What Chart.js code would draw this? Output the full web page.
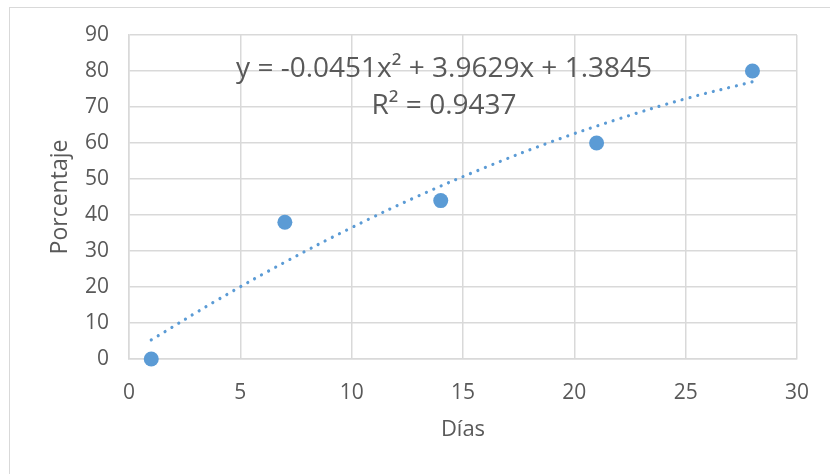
<!DOCTYPE html>
<html>
<head>
<meta charset="utf-8">
<script src="https://cdn.jsdelivr.net/npm/chart.js@4/dist/chart.umd.min.js"></script>
<style>
  html, body { margin: 0; padding: 0; background: #fff; overflow: hidden; }
  #wrap { position: relative; width: 830px; height: 474px; }
  #frame { position: absolute; left: 9px; top: 7px; width: 900px; height: 600px; border: 1px solid #d9d9d9; box-sizing: border-box; }
  canvas { position: absolute; left: 0; top: 0; }
</style>
</head>
<body>
<div id="wrap">
  <div id="frame"></div>
  <canvas id="c" width="830" height="474"></canvas>
</div>
<script>
// Observed data
const dias = [1, 7, 14, 21, 28];
const porcentaje = [0, 38, 44, 60, 80];

// Trendline (polynomial, order 2)
const trendX = [1, 4, 7, 10, 13, 16, 19, 22, 25, 28];
const trendY = [5.3, 16.5, 26.9, 36.5, 45.3, 53.2, 60.4, 66.7, 72.3, 77.0];

// Ticks / labels
const xTicks = [0, 5, 10, 15, 20, 25, 30];
const yTicks = [0, 10, 20, 30, 40, 50, 60, 70, 80, 90];
const equationLines = ['y = -0.0451x\u00B2 + 3.9629x + 1.3845', 'R\u00B2 = 0.9437'];
const xTitle = 'Días';
const yTitle = 'Porcentaje';

const FONT = "'Open Sans', 'Liberation Sans', sans-serif";
const TXT = '#595959';
const GRID = '#d9d9d9';
const BLUE = '#5b9bd5';

const equationPlugin = {
  id: 'equation',
  afterDatasetsDraw(chart) {
    const ctx = chart.ctx;
    const xs = chart.scales.x, ys = chart.scales.y;
    ctx.save();
    ctx.fillStyle = TXT;
    ctx.font = "28px " + FONT;
    ctx.textAlign = 'center';
    ctx.textBaseline = 'alphabetic';
    const cx = xs.getPixelForValue(14.15);
    ctx.fillText(equationLines[0], cx, ys.getPixelForValue(78.3));
    ctx.fillText(equationLines[1], cx, ys.getPixelForValue(68.1));
    ctx.restore();
  }
};

new Chart(document.getElementById('c'), {
  type: 'scatter',
  data: {
    datasets: [
      {
        label: 'Porcentaje',
        data: dias.map((d, i) => ({ x: d, y: porcentaje[i] })),
        backgroundColor: BLUE,
        borderColor: BLUE,
        pointRadius: 7.5,
        pointHoverRadius: 7.5,
        pointBorderWidth: 0,
        clip: false,
        order: 1
      },
      {
        label: 'Tendencia',
        type: 'line',
        data: trendX.map((d, i) => ({ x: d, y: trendY[i] })),
        borderColor: BLUE,
        borderWidth: 3.2,
        borderDash: [0.01, 8],
        borderCapStyle: 'round',
        pointRadius: 0,
        tension: 0.4,
        fill: false,
        order: 2
      }
    ]
  },
  options: {
    responsive: false,
    animation: false,
    layout: { padding: { left: 20, top: 35, right: 27, bottom: 0 } },
    plugins: { legend: { display: false }, tooltip: { enabled: false } },
    scales: {
      x: {
        type: 'linear',
        min: 0, max: 30,
        afterBuildTicks(s) { s.ticks = xTicks.map(v => ({ value: v })); },
        afterFit(s) { s.height = 115; },
        grid: { color: GRID, lineWidth: 1.5, drawTicks: false },
        border: { color: GRID, width: 1.5 },
        ticks: { color: TXT, font: { family: FONT, size: 21 }, padding: 21, maxRotation: 0 },
        title: { display: true, text: xTitle, color: TXT, font: { family: FONT, size: 22 }, padding: { top: 10, bottom: 31 } }
      },
      y: {
        type: 'linear',
        min: 0, max: 90,
        afterBuildTicks(s) { s.ticks = yTicks.map(v => ({ value: v })); },
        afterFit(s) { s.width = 109; },
        grid: { color: GRID, lineWidth: 1.5, drawTicks: false },
        border: { color: GRID, width: 1.5 },
        ticks: { color: TXT, font: { family: FONT, size: 21 }, padding: 20 },
        title: { display: true, text: yTitle, color: TXT, font: { family: FONT, size: 23 }, padding: { top: 27, bottom: 0 } }
      }
    }
  },
  plugins: [equationPlugin]
});
</script>
</body>
</html>
